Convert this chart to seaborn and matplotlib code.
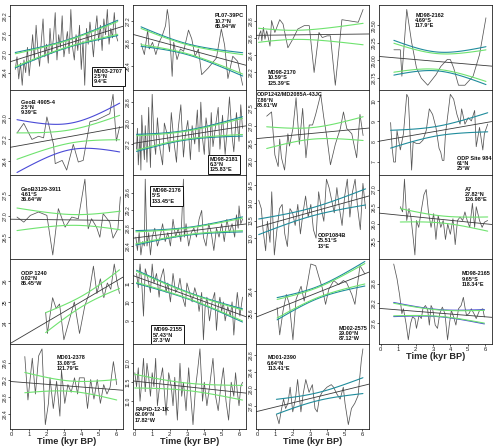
import numpy as np
import pandas as pd
import matplotlib
matplotlib.use("Agg")
import matplotlib.pyplot as plt
import seaborn as sns
from matplotlib.ticker import MaxNLocator

sns.set_theme(style="white")
plt.rcParams['font.family'] = ['Liberation Sans', 'DejaVu Sans']

# ---------------- data (age in kyr BP, SST in degC) ----------------
md03_2707_age = [0.2,0.3,0.4,0.5,0.6,0.7,0.8,0.9,1.0,1.1,1.2,1.3,1.4,1.5,1.6,1.7,1.8,1.9,2.0,2.1,
                 2.2,2.3,2.4,2.5,2.6,2.7,2.8,2.9,3.0,3.1,3.2,3.3,3.4,3.5,3.6,3.7,3.8,3.9,4.0,4.1,
                 4.2,4.3,4.4,4.5,4.6,4.7,4.8,4.9,5.0,5.1,5.2,5.3,5.4,5.5,5.6,5.7,5.8,5.9,6.0,6.1]
md03_2707_sst = [26.5,26.9,26.2,26.7,26.0,26.8,26.4,27.2,26.3,26.9,27.6,26.8,27.9,27.1,26.6,27.4,28.1,26.9,27.3,26.7,
                 27.8,27.0,27.5,28.3,26.8,27.6,27.2,28.2,26.9,27.3,27.7,27.0,28.4,27.2,26.8,27.6,27.1,27.9,26.5,27.4,
                 26.0,27.8,27.3,28.0,27.5,26.9,27.7,28.2,27.4,27.9,27.1,28.1,27.6,28.4,27.3,27.8,27.5,28.3,27.6,27.4]

geob4905_age = [0.3,0.69,1.16,1.54,1.83,2.02,2.4,2.5,2.9,3.16,3.54,3.83,4.11,4.5,4.88,5.26,5.64,5.83,6.02,6.21]
geob4905_sst = [27.44,27.8,27.2,27.32,27.26,28.04,27.02,26.3,26.42,26.06,27.02,26.36,26.42,27.86,27.92,28.04,28.16,28.88,27.14,27.68]

geob3129_age = [0.3,0.69,1.07,1.54,2.02,2.36,2.68,3.07,3.45,3.83,4.21,4.4,4.59,4.88,5.07,5.26,5.64,5.83,6.11,6.25]
geob3129_sst = [26.98,26.86,27.02,27.1,27.02,26.08,27.18,26.74,26.98,26.94,27.88,26.7,26.94,26.74,26.5,27.06,26.86,26.48,26.7,27.46]

odp1240_age = [1.95,2.05,2.35,2.55,2.75,3.0,3.3,3.6,3.9,4.2,4.45,4.7,4.9,5.1,5.3,5.5,5.7,5.9,6.05,6.2]
odp1240_sst = [24.5,23.5,25.2,24.7,24.9,23.2,24.1,25.0,23.5,24.8,25.4,26.7,25.4,26.1,25.2,25.9,25.6,26.8,26.0,25.4]

md01_2378_age = [0.75,0.93,1.18,1.36,1.55,1.74,1.93,2.11,2.2,2.39,2.58,2.77,2.86,3.05,3.23,3.42,3.61,3.79,3.89,4.17,
                 4.36,4.54,4.73,4.92,5.1,5.29,5.48,5.66,5.85,6.04]
md01_2378_sst = [29.76,28.74,29.72,28.88,29.78,29.94,28.16,28.66,29.26,28.54,29.18,28.36,29.44,28.66,29.10,28.92,29.26,28.88,29.26,29.26,
                 28.54,29.22,28.76,29.22,28.66,29.10,28.88,29.04,29.64,29.10]

pl07_age = [0.36,0.55,0.74,0.83,1.02,1.21,1.4,1.58,1.77,1.87,1.96,2.15,2.24,2.43,2.62,2.81,3.09,3.28,3.47,3.66,
            3.85,4.23,4.7,4.98,5.17,5.36,5.64,5.92,6.21]
pl07_sst = [26.80,26.60,27.04,26.70,26.82,26.60,26.82,26.94,27.12,27.41,27.23,26.21,26.82,26.51,26.70,26.66,27.04,26.88,26.57,26.70,
            26.24,26.36,26.54,27.06,26.77,26.17,26.57,26.48,26.05]

md98_2181_age = [0.1,0.15,0.2,0.3,0.35,0.4,0.5,0.55,0.6,0.7,0.8,0.85,0.9,1.0,1.1,1.2,1.3,1.45,1.6,1.7,
                 1.85,2.0,2.1,2.25,2.4,2.5,2.65,2.8,2.9,3.05,3.2,3.3,3.45,3.6,3.7,3.8,3.9,4.0,4.1,4.2,
                 4.3,4.4,4.5,4.65,4.8,4.9,5.05,5.2,5.3,5.45,5.6,5.7,5.85,6.0,6.1,6.2]
md98_2181_sst = [27.0,27.8,26.4,27.5,26.2,28.3,27.1,26.6,27.9,26.5,28.6,27.2,26.3,29.1,27.4,26.8,28.2,27.0,26.4,28.0,
                 27.6,26.9,28.4,27.3,26.5,27.8,28.7,26.7,27.5,28.1,26.6,27.9,27.2,28.5,26.9,28.8,27.4,26.8,28.2,27.7,
                 26.5,28.4,27.1,27.9,28.6,27.0,28.3,26.8,27.6,29.0,27.5,26.9,28.4,27.3,28.7,27.8]

md98_2176_age = [0.06,0.15,0.25,0.35,0.45,0.55,0.6,0.7,0.8,0.9,1.0,1.15,1.3,1.45,1.6,1.75,1.9,2.05,2.2,2.35,
                 2.5,2.65,2.8,2.85,2.95,3.1,3.25,3.4,3.55,3.7,3.85,3.95,4.1,4.25,4.4,4.55,4.7,4.85,5.0,5.15,
                 5.3,5.45,5.6,5.75,5.85,5.95,6.0,6.1,6.2]
md98_2176_sst = [28.6,28.3,28.7,28.2,28.5,28.4,29.9,28.4,28.7,28.2,28.6,28.8,28.4,28.6,28.9,28.5,28.7,28.4,29.0,28.6,
                 28.8,28.5,29.9,28.6,28.9,28.4,28.7,28.8,28.6,29.0,29.2,28.6,28.4,28.9,28.7,28.3,28.8,28.6,28.9,28.5,
                 29.0,28.7,28.9,28.6,29.1,28.8,29.3,28.9,29.0]

md99_2155_age = [0.1,0.2,0.3,0.4,0.5,0.6,0.75,0.9,1.0,1.1,1.25,1.4,1.5,1.65,1.8,1.9,2.05,2.2,2.35,2.5,
                 2.6,2.75,2.9,3.0,3.15,3.3,3.45,3.6,3.7,3.85,3.95,4.05,4.15,4.3,4.45,4.6,4.7,4.8,4.9,5.0,
                 5.1,5.2,5.35,5.5,5.6,5.7,5.8,5.9,6.05,6.2]
md99_2155_sst = [11.5,10.75,12.0,11.0,9.25,11.75,11.25,10.5,12.0,11.0,11.5,10.25,11.25,11.75,10.5,11.0,10.0,11.5,10.5,10.75,
                 11.25,10.25,9.75,11.0,10.5,10.0,10.75,10.25,9.5,10.5,8.0,9.75,10.25,9.0,10.0,10.5,8.5,9.75,10.25,9.5,
                 10.0,9.0,9.75,9.25,10.0,8.25,9.5,10.5,9.25,10.25]

rapid12_age = [0.0,0.1,0.2,0.3,0.4,0.5,0.6,0.7,0.8,0.9,1.0,1.1,1.2,1.3,1.45,1.6,1.7,1.8,1.95,2.1,
               2.2,2.3,2.45,2.6,2.7,2.8,2.95,3.1,3.2,3.35,3.5,3.6,3.75,3.9,4.0,4.15,4.3,4.5,4.65,4.8,
               4.95,5.1,5.25,5.4,5.55,5.7,5.8,5.9,6.0,6.1,6.2]
rapid12_sst = [11.75,11.38,11.88,11.0,11.5,12.13,11.25,12.0,11.63,11.13,11.75,11.38,12.13,10.88,11.5,11.88,11.25,10.63,11.75,11.38,
               10.88,11.63,10.5,12.0,11.13,11.5,10.75,11.88,11.25,10.38,11.38,11.75,12.38,11.0,11.5,10.88,11.38,12.13,11.13,10.75,
               11.38,11.88,11.0,10.5,11.5,11.13,11.75,11.25,10.88,11.38,11.5]

md98_2170_age = [0.04,0.09,0.17,0.23,0.32,0.41,0.51,0.6,0.7,0.79,0.98,1.26,1.45,1.73,2.01,2.3,2.67,2.96,3.24,3.52,
                 3.71,3.99,4.18,4.46,4.84,5.78,6.06]
md98_2170_sst = [28.59,28.65,28.69,28.57,28.73,28.59,28.69,28.61,28.51,28.81,28.67,28.82,28.77,28.49,28.59,28.71,28.75,28.75,28.20,28.67,
                 28.61,28.63,28.63,28.05,28.82,28.79,28.94]

odp1242_age = [0.51,0.79,0.98,1.17,1.26,1.36,1.54,1.73,1.82,2.02,2.2,2.39,2.58,2.77,2.96,3.15,3.33,3.62,3.8,3.99,
               4.18,4.46,4.75,4.93,5.12,5.41,5.69,5.88,6.06]
odp1242_sst = [27.28,27.4,26.18,25.85,26.63,26.1,25.75,26.78,26.43,26.93,27.8,26.48,27.5,26.1,27.03,27.03,27.33,27.9,27.23,26.63,
               25.9,26.48,26.93,27.4,26.93,26.78,26.1,27.33,26.73]

odp1084_age = [0.05,0.2,0.3,0.45,0.55,0.7,0.8,0.95,1.1,1.25,1.4,1.55,1.7,1.85,2.0,2.15,2.3,2.45,2.6,2.75,
               2.9,3.05,3.2,3.35,3.5,3.65,3.8,3.95,4.1,4.25,4.4,4.55,4.7,4.85,5.0,5.15,5.3,5.45,5.6,5.75,
               5.9,6.05,6.2]
odp1084_sst = [14.08,13.84,13.24,12.64,13.48,12.88,14.32,12.52,13.24,13.84,13.96,13.12,12.76,13.84,13.72,13.36,13.96,13.12,13.72,14.2,
               13.6,13.96,13.24,13.0,14.32,13.84,13.48,14.68,14.44,14.08,13.72,14.44,13.84,13.36,14.2,14.68,13.6,14.32,14.68,13.84,
               13.24,14.56,13.84]

md02_2575_age = [1.11,1.26,1.45,1.64,1.82,2.02,2.2,2.49,2.67,2.86,3.05,3.33,3.52,3.71,3.9,4.08,4.37,4.65,4.93,5.12,
                 5.41,5.59,5.88,6.16]
md02_2575_sst = [25.79,24.8,25.67,26.27,25.91,24.62,26.09,26.57,26.03,26.69,27.38,27.32,26.9,26.51,25.91,26.45,26.78,26.63,26.78,26.69,
                 26.27,25.91,27.32,27.02]

md01_2390_age = [1.07,1.22,1.35,1.48,1.6,1.73,1.86,2.01,2.16,2.29,2.48,2.61,2.76,2.95,3.14,3.29,3.42,3.55,3.7,3.98,
                 4.23,4.36,4.55,4.74,4.92,5.02,5.21,5.39,5.58,5.77,5.96,6.05]
md01_2390_sst = [27.4,27.18,27.5,27.76,27.54,27.66,28.04,27.46,27.76,28.22,27.46,27.88,28.22,27.92,28.1,27.54,27.46,27.8,27.92,28.04,
                 28.1,28.04,27.88,27.76,28.04,27.66,27.16,27.54,27.66,27.84,28.68,28.94]

md98_2162_age = [0.75,1.12,1.21,1.49,1.77,2.05,2.33,2.7,3.17,3.45,3.82,4.0,4.19,4.47,4.84,5.31,5.68,6.05]
md98_2162_sst = [29.15,29.15,28.77,29.73,29.26,28.89,28.74,28.64,28.79,28.91,29.01,29.01,28.89,28.64,28.64,28.77,29.08,29.61]

odp984_age = [0.56,0.65,0.74,0.84,0.93,1.12,1.3,1.49,1.58,1.68,1.77,1.86,2.05,2.23,2.42,2.61,2.79,2.98,3.17,3.35,
              3.45,3.54,3.63,3.72,3.91,4.0,4.19,4.38,4.56,4.65,4.84,5.03,5.21,5.4,5.49,5.68,5.87,5.96,6.15]
odp984_sst = [8.94,7.66,6.98,6.98,8.54,7.58,8.38,10.34,10.18,8.38,6.58,7.98,7.9,7.9,8.06,8.54,9.62,9.34,8.7,7.66,
              7.46,7.06,7.06,8.38,9.7,10.34,10.1,9.34,8.86,9.62,8.86,9.18,9.02,9.54,7.74,8.7,7.58,8.38,8.86]

a7_age = [1.12,1.25,1.36,1.49,1.62,1.73,1.86,1.96,2.05,2.18,2.33,2.48,2.61,2.74,2.89,3.04,3.17,3.3,3.45,3.59,
          3.72,3.85,4.0,4.15,4.28,4.41,4.56,4.71,4.84,4.97,5.12,5.27,5.4,5.49,5.68,5.83,5.96,6.15]
a7_sst = [26.5,26.35,27.3,26.1,26.45,26.2,25.6,25.1,26.1,25.9,26.4,26.85,27.0,26.35,25.9,26.3,25.55,26.25,25.9,26.1,
          25.55,26.0,25.7,26.15,25.4,26.1,26.2,26.1,26.35,26.1,25.9,26.6,25.9,26.5,26.1,25.9,26.05,26.1]

md98_2165_age = [0.74,0.93,1.08,1.21,1.3,1.45,1.58,1.71,1.82,1.96,2.05,2.2,2.33,2.42,2.57,2.7,2.79,2.89,2.98,3.13,
                 3.26,3.39,3.54,3.69,3.84,3.95,4.06,4.19,4.32,4.47,4.62,4.75,4.84,4.93,5.07,5.21,5.36,5.49,5.68,5.87,
                 5.96]
md98_2165_sst = [29.4,28.95,28.45,27.88,28.03,27.58,27.08,27.58,27.78,27.73,27.43,27.83,27.73,28.03,28.13,27.98,27.53,28.13,28.03,27.53,
                 27.43,27.88,28.08,27.88,27.08,27.58,27.98,27.78,27.53,28.03,28.13,28.38,28.08,27.83,27.88,28.03,27.88,27.73,27.98,28.03,
                 27.78]

tick_ages = [0, 1, 2, 3, 4, 5, 6]
x_label = "Time (kyr BP)"

# panel: (row, col, label, age, sst, bands, text x, text top y, boxed)
panels = [
    (0, 0, "MD03-2707\n2.5°N\n9.4°E", md03_2707_age, md03_2707_sst, "gt", 0.745, 0.25, True),
    (1, 0, "GeoB 4905-4\n2.5°N\n9.39°E", geob4905_age, geob4905_sst, "gb", 0.10, 0.88, False),
    (2, 0, "GeoB3129-3911\n4.61°S\n36.64°W", geob3129_age, geob3129_sst, "g", 0.10, 0.86, False),
    (3, 0, "ODP 1240\n0.02°N\n86.45°W", odp1240_age, odp1240_sst, "g", 0.10, 0.87, False),
    (4, 0, "MD01-2378\n13.08°S\n121.79°E", md01_2378_age, md01_2378_sst, "g", 0.41, 0.87, False),
    (0, 1, "PL07-39PC\n10.7°N\n65.94°W", pl07_age, pl07_sst, "gt", 0.72, 0.90, False),
    (1, 1, "MD98-2181\n6.3°N\n125.83°E", md98_2181_age, md98_2181_sst, "gt", 0.68, 0.21, True),
    (2, 1, "MD98-2176\n5°S\n133.45°E", md98_2176_age, md98_2176_sst, "gt", 0.17, 0.84, True),
    (3, 1, "MD99-2155\n57.43°N\n27.3°W", md99_2155_age, md99_2155_sst, "gt", 0.18, 0.20, True),
    (4, 1, "RAPiD-12-1K\n62.09°N\n17.82°W", rapid12_age, rapid12_sst, "g", 0.02, 0.26, False),
    (0, 2, "MD98-2170\n10.59°S\n125.39°E", md98_2170_age, md98_2170_sst, "g", 0.10, 0.23, False),
    (1, 2, "ODP1242/MD2085A-43JC\n7.86°N\n83.61°W", odp1242_age, odp1242_sst, "g", 0.01, 0.97, False),
    (2, 2, "ODP1084B\n25.51°S\n13°E", odp1084_age, odp1084_sst, "t", 0.55, 0.31, False),
    (3, 2, "MD02-2575\n29.00°N\n87.12°W", md02_2575_age, md02_2575_sst, "gt", 0.73, 0.22, False),
    (4, 2, "MD01-2390\n6.64°N\n113.41°E", md01_2390_age, md01_2390_sst, "t", 0.10, 0.87, False),
    (0, 3, "MD98-2162\n4.69°S\n117.9°E", md98_2162_age, md98_2162_sst, "gt", 0.32, 0.91, False),
    (1, 3, "ODP Site 984\n61°N\n25°W", odp984_age, odp984_sst, "t", 0.69, 0.22, False),
    (2, 3, "A7\n27.82°N\n126.98°E", a7_age, a7_sst, "g", 0.76, 0.86, False),
    (3, 3, "MD98-2165\n9.65°S\n118.34°E", md98_2165_age, md98_2165_sst, "gb", 0.73, 0.86, False),
]

GREEN = "#6fe36f"
TEAL = "#1f8c9c"
BLUE = "#4a4ad6"
SERIES = "#555555"
FIT = "#3a3a3a"
ZQ = 1.5


def band(x, y, xs, mult):
    n = len(x)
    b, a = np.polyfit(x, y, 1)
    resid = y - (a + b * x)
    s = np.sqrt(np.sum(resid ** 2) / (n - 2))
    xm = x.mean()
    sxx = np.sum((x - xm) ** 2)
    se = s * np.sqrt(1.0 / n + (xs - xm) ** 2 / sxx)
    fit = a + b * xs
    return fit - ZQ * mult * se, fit + ZQ * mult * se


fig = plt.figure(figsize=(4.94, 4.48), dpi=100)
fig.patch.set_facecolor("white")
gs = fig.add_gridspec(5, 4, left=0.02, right=0.996, top=0.989, bottom=0.042,
                      wspace=0.088, hspace=0.0)

for row, col, label, age, sst, bands, tx, ty, boxed in panels:
    ax = fig.add_subplot(gs[row, col])
    n = min(len(age), len(sst))
    df = pd.DataFrame({"age": age[:n], "sst": sst[:n]})
    ax.set_xlim(-0.11, 6.4)
    sns.lineplot(data=df, x="age", y="sst", sort=False, estimator=None,
                 color=SERIES, lw=0.55, ax=ax)
    ylo, yhi = df.sst.min(), df.sst.max()
    pad = 0.06 * (yhi - ylo)
    sns.regplot(data=df, x="age", y="sst", scatter=False, ci=None, truncate=False,
                color=FIT, line_kws={"lw": 0.6}, ax=ax)
    x = df.age.to_numpy(float)
    y = df.sst.to_numpy(float)
    xs = np.linspace(x.min(), x.max(), 120)
    if "t" in bands:
        lo, hi = band(x, y, xs, 1.2 if "g" in bands else 1.0)
        ax.plot(xs, lo, color=TEAL, lw=0.8)
        ax.plot(xs, hi, color=TEAL, lw=0.8)
    if "b" in bands:
        lo, hi = band(x, y, xs, 2.0 if row == 1 else 1.12)
        ax.plot(xs, lo, color=BLUE, lw=0.8)
        ax.plot(xs, hi, color=BLUE, lw=0.8)
    if "g" in bands:
        lo, hi = band(x, y, xs, 1.0)
        ax.plot(xs, lo, color=GREEN, lw=0.8)
        ax.plot(xs, hi, color=GREEN, lw=0.8)
    y0, y1 = ylo - pad, yhi + pad
    ax.set_ylim(y0, y1)

    span = y1 - y0
    ticks = MaxNLocator(nbins=5).tick_values(y0, y1)
    ticks = [t for t in ticks if y0 + 0.12 * span < t < y1 - 0.12 * span]
    ax.set_yticks(ticks)
    ax.tick_params(axis="y", labelsize=3.6, length=1.5, width=0.5, pad=0.4,
                   labelrotation=90, left=True, colors="#222222")
    for t in ax.get_yticklabels():
        t.set_va("center")
    bottom = (row == 4) or (col == 3 and row == 3)
    ax.set_xticks(tick_ages)
    if bottom:
        ax.tick_params(axis="x", labelsize=4.2, length=1.5, width=0.5, pad=0.5,
                       bottom=True, colors="#222222")
        ax.set_xlabel(x_label, fontsize=6.6, fontweight="bold", labelpad=0.0)
    else:
        ax.tick_params(axis="x", bottom=False, labelbottom=False)
        ax.set_xlabel("")
    ax.set_ylabel("")
    for sp in ax.spines.values():
        sp.set_color("#222222")
        sp.set_linewidth(0.6)

    kw = dict(transform=ax.transAxes, fontsize=4.0, fontweight="bold",
              va="top", ha="left", linespacing=1.05, color="#111111", zorder=5)
    if boxed:
        kw["bbox"] = dict(boxstyle="square,pad=0.35", fc="white", ec="#111111", lw=0.7)
    ax.text(tx, ty, label, **kw)

fig.savefig("out.png", dpi=100, facecolor="white")
